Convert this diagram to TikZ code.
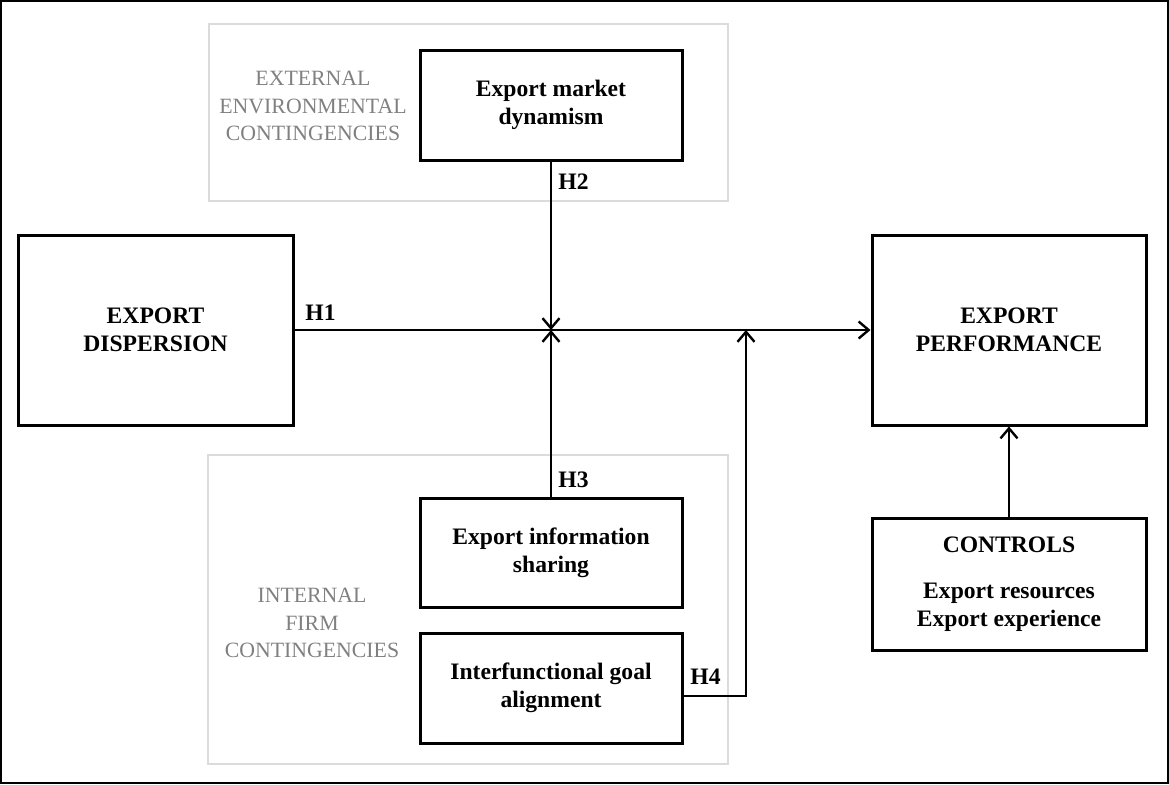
\documentclass[tikz,border=0pt]{standalone}
\usepackage{fontspec}
\setmainfont{Liberation Serif}
\usetikzlibrary{arrows.meta}

\begin{document}
\begin{tikzpicture}[
		x=0.5pt, y=-0.5pt,
		varbox/.style={draw=black, line width=1.5pt, align=center, inner sep=0pt,
			font=\fontsize{11.8}{14}\selectfont\bfseries},
		zone/.style={draw=black!14, line width=0.8pt},
		zonetext/.style={text=black!50, align=center, inner sep=0pt,
			font=\fontsize{10.9}{13.7}\selectfont},
		hyp/.style={anchor=west, inner sep=0pt, font=\fontsize{11.8}{14}\selectfont\bfseries},
		link/.style={line width=1.2pt, -{Straight Barb[length=5pt,width=8.5pt,line width=1.2pt]}}
	]
	\useasboundingbox (0,0) rectangle (1169,784);
	\draw[line width=0.6pt] (1,1) rectangle (1168,783);

	% contingency zones
	\draw[zone] (209,24) rectangle (728,201);
	\draw[zone] (208,455) rectangle (728,764);
	\node[zonetext] (exttext) at (313,106) {EXTERNAL\\ENVIRONMENTAL\\CONTINGENCIES};
	\node[zonetext] (inttext) at (312,623) {INTERNAL\\FIRM\\CONTINGENCIES};

	% constructs
	\node[varbox, minimum width=131pt, minimum height=55pt] (market) at (551,105) {Export market\\dynamism};
	\node[varbox, minimum width=137.5pt, minimum height=95pt] (disp) at (155.5,330) {EXPORT\\DISPERSION};
	\node[varbox, minimum width=137pt, minimum height=95pt] (perf) at (1009,330) {EXPORT\\PERFORMANCE};
	\node[varbox, minimum width=137pt, minimum height=66pt] (ctrl) at (1009,584) {CONTROLS\\[9pt]Export resources\\Export experience};
	\node[varbox, minimum width=131pt, minimum height=54.5pt] (info) at (551,552.5) {Export information\\sharing};
	\node[varbox, minimum width=131pt, minimum height=55pt] (goal) at (551,688) {Interfunctional goal\\alignment};

	\coordinate (jn) at (551,330);
	\coordinate (h4bend) at (746,696);

	% paths
	\draw[link] (disp.east) -- (perf.west);
	\draw[link] (market.south) -- (jn);
	\draw[link] (info.north) -- (jn);
	\draw[link] (goal.east |- h4bend) -- (h4bend) -- (h4bend |- jn);
	\draw[link] (ctrl.north) -- (perf.south);

	% hypotheses
	\node[hyp] (h1) at (305,313) {H1};
	\node[hyp] (h2) at (558,182) {H2};
	\node[hyp] (h3) at (558,480) {H3};
	\node[hyp] (h4) at (690,677) {H4};
\end{tikzpicture}
\end{document}
